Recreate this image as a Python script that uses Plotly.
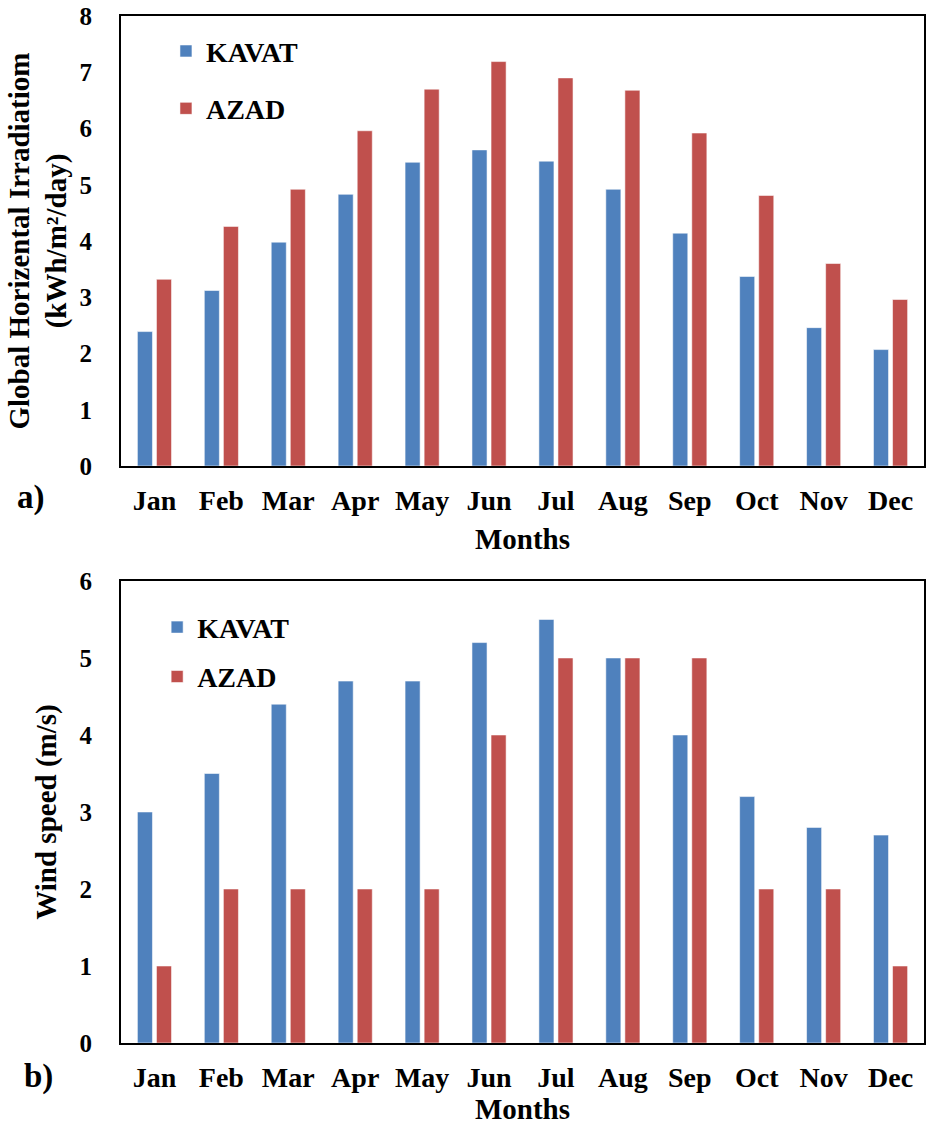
import plotly.graph_objects as go
from plotly.subplots import make_subplots

months = ["Jan", "Feb", "Mar", "Apr", "May", "Jun", "Jul", "Aug", "Sep", "Oct", "Nov", "Dec"]

ghi_kavat = [2.39, 3.12, 3.98, 4.83, 5.40, 5.62, 5.42, 4.92, 4.14, 3.37, 2.46, 2.07]
ghi_azad = [3.32, 4.26, 4.92, 5.96, 6.70, 7.19, 6.90, 6.68, 5.92, 4.81, 3.60, 2.96]

wind_kavat = [3.0, 3.5, 4.4, 4.7, 4.7, 5.2, 5.5, 5.0, 4.0, 3.2, 2.8, 2.7]
wind_azad = [1, 2, 2, 2, 2, 4, 5, 5, 5, 2, 2, 1]

BLUE = "#4F81BD"
RED = "#C0504D"
FONT = "Liberation Serif"
bar_line = dict(color="rgba(255,255,255,0.55)", width=1)

fig = make_subplots(rows=2, cols=1)

fig.add_trace(go.Bar(x=months, y=ghi_kavat, name="KAVAT", marker=dict(color=BLUE, line=bar_line),
                     legend="legend", legendgroup="k1"), row=1, col=1)
fig.add_trace(go.Bar(x=months, y=ghi_azad, name="AZAD", marker=dict(color=RED, line=bar_line),
                     legend="legend", legendgroup="a1"), row=1, col=1)
fig.add_trace(go.Bar(x=months, y=wind_kavat, name="KAVAT", marker=dict(color=BLUE, line=bar_line),
                     legend="legend2", legendgroup="k2"), row=2, col=1)
fig.add_trace(go.Bar(x=months, y=wind_azad, name="AZAD", marker=dict(color=RED, line=bar_line),
                     legend="legend2", legendgroup="a2"), row=2, col=1)

axis_common = dict(showline=True, linecolor="black", linewidth=2, mirror=True,
                   showgrid=False, zeroline=False, ticks="")
tickfont_y = dict(family=FONT, size=25, color="black", weight="bold")
tickfont_x = dict(family=FONT, size=28, color="black", weight="bold")
titlefont = dict(family=FONT, size=29, color="black", weight="bold")
titlefont_top = dict(family=FONT, size=29, color="black", weight="bold")

fig.update_layout(
    width=927, height=1129,
    margin=dict(l=121, r=1, t=16, b=86),
    plot_bgcolor="white", paper_bgcolor="white",
    barmode="group", bargap=0.43, bargroupgap=0.21,
    xaxis=dict(domain=[0, 1], anchor="y", **axis_common, tickfont=tickfont_x, ticklabelstandoff=8,
               title=dict(text="Months", font=titlefont, standoff=14)),
    yaxis=dict(domain=[0.5618, 1], anchor="x", range=[0, 8], dtick=1, **axis_common,
               tickfont=tickfont_y, ticklabelstandoff=22,
               title=dict(text="Global Horizental Irradiatiom<br>(kWh/m²/day)", font=titlefont_top, standoff=4)),
    xaxis2=dict(domain=[0, 1], anchor="y2", **axis_common, tickfont=tickfont_x, ticklabelstandoff=8,
                title=dict(text="Months", font=titlefont, standoff=6)),
    yaxis2=dict(domain=[0, 0.4499], anchor="x2", range=[0, 6], dtick=1, **axis_common,
                tickfont=tickfont_y, ticklabelstandoff=22,
                title=dict(text="Wind speed (m/s)", font=titlefont, standoff=14)),
    legend=dict(x=0.056, y=0.99, xanchor="left", yanchor="top", traceorder="grouped",
                tracegroupgap=18, bgcolor="rgba(0,0,0,0)",
                font=dict(family=FONT, size=28, color="black", weight="bold")),
    legend2=dict(x=0.045, y=0.429, xanchor="left", yanchor="top", traceorder="grouped",
                 tracegroupgap=10, bgcolor="rgba(0,0,0,0)",
                 font=dict(family=FONT, size=28, color="black", weight="bold")),
    annotations=[
        dict(text="a)", xref="paper", yref="paper", x=-0.112, y=0.5316, showarrow=False,
             xanchor="center", yanchor="middle",
             font=dict(family=FONT, size=33, color="black", weight="bold")),
        dict(text="b)", xref="paper", yref="paper", x=-0.103, y=-0.0331, showarrow=False,
             xanchor="center", yanchor="middle",
             font=dict(family=FONT, size=33, color="black", weight="bold")),
    ],
)

fig.write_html("out.html")
